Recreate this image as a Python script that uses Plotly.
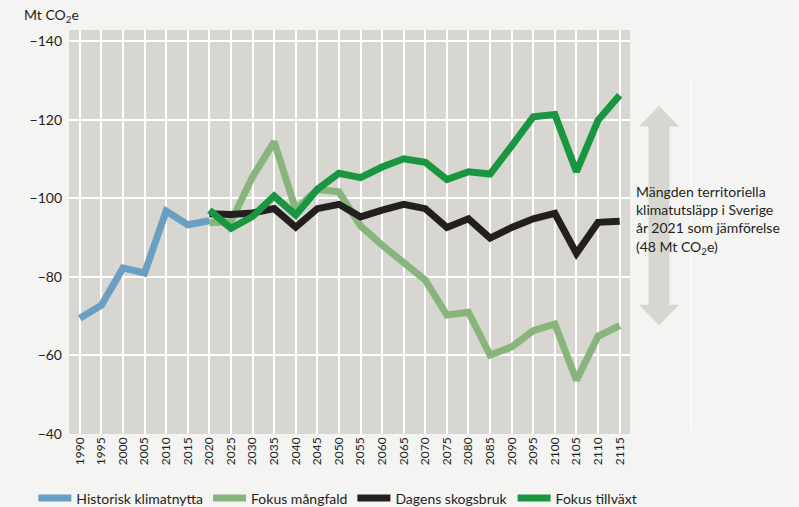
import plotly.graph_objects as go

years_hist = [1990, 1995, 2000, 2005, 2010, 2015, 2020]
hist = [-69.5, -72.8, -82.3, -81.0, -96.8, -93.3, -94.3]

years_scen = [2020, 2025, 2030, 2035, 2040, 2045, 2050, 2055, 2060, 2065, 2070,
              2075, 2080, 2085, 2090, 2095, 2100, 2105, 2110, 2115]
mangfald = [-93.8, -94.1, -105.5, -114.4, -97.2, -102.3, -101.7, -93.0, -88.1, -83.4,
            -79.2, -70.3, -71.0, -60.1, -62.2, -66.3, -68.0, -53.7, -64.9, -67.6]
dagens = [-96.1, -95.9, -96.3, -97.4, -92.7, -97.4, -98.5, -95.3, -97.0, -98.5,
          -97.4, -92.6, -94.8, -89.9, -92.6, -94.8, -96.2, -86.0, -93.9, -94.2]
tillvaxt = [-97.0, -92.4, -95.4, -100.6, -95.8, -102.3, -106.4, -105.3, -108.0, -110.1,
            -109.2, -104.8, -106.8, -106.2, -113.4, -120.8, -121.4, -106.8, -119.9, -126.3]

tick_years = list(range(1990, 2116, 5))
y_ticks = [-140, -120, -100, -80, -60, -40]

names = ["Historisk klimatnytta", "Fokus mångfald", "Dagens skogsbruk", "Fokus tillväxt"]
colors = ["#6a9fc2", "#88b57c", "#231f20", "#1b9640"]

FONT = "Lato"
TXT = "#231f20"
LW = 7

fig = go.Figure()
fig.add_trace(go.Scatter(x=years_hist, y=hist, mode="lines", name=names[0],
                         line=dict(color=colors[0], width=LW)))
fig.add_trace(go.Scatter(x=years_scen, y=mangfald, mode="lines", name=names[1],
                         line=dict(color=colors[1], width=LW)))
fig.add_trace(go.Scatter(x=years_scen, y=dagens, mode="lines", name=names[2],
                         line=dict(color=colors[2], width=LW)))
fig.add_trace(go.Scatter(x=years_scen, y=tillvaxt, mode="lines", name=names[3],
                         line=dict(color=colors[3], width=LW)))

# double arrow on the right (comparison span)
fig.add_shape(type="path", xref="paper", yref="y", layer="below",
              path=("M 1.0517 -123.6 L 1.0874 -118.3 L 1.0704 -118.3 L 1.0704 -72.9 "
                    "L 1.0874 -72.9 L 1.0517 -67.7 L 1.0160 -72.9 L 1.0330 -72.9 "
                    "L 1.0330 -118.3 L 1.0160 -118.3 Z"),
              fillcolor="#d7d6d1", line=dict(width=0))

# faint white divider line
fig.add_shape(type="line", xref="paper", yref="paper", layer="below",
              x0=1.1087, x1=1.1087, y0=0.01, y1=0.88,
              line=dict(color="#ffffff", width=1))

fig.add_annotation(xref="paper", yref="y", x=1.008, y=-94.4, xanchor="left", yanchor="middle",
                   align="left", showarrow=False,
                   text="Mängden territoriella<br>klimatutsläpp i Sverige<br>år 2021 som jämförelse<br>(48 Mt CO<sub>2</sub>e)",
                   font=dict(family=FONT, size=14, color=TXT))

fig.add_annotation(xref="paper", yref="paper", x=-0.083, y=1.037, xanchor="left", yanchor="middle",
                   showarrow=False, text="Mt CO<sub>2</sub>e",
                   font=dict(family=FONT, size=14, color=TXT))

fig.update_layout(
    width=799, height=507,
    margin=dict(l=69, r=169, t=30, b=73, autoexpand=False),
    paper_bgcolor="#f4f4f2",
    plot_bgcolor="#d7d6d1",
    font=dict(family=FONT, size=14, color=TXT),
    showlegend=True,
    legend=dict(orientation="h", x=-0.0636, y=-0.12, xanchor="left", yanchor="top",
                font=dict(family=FONT, size=14, color=TXT), bgcolor="rgba(0,0,0,0)",
                itemwidth=33, tracegroupgap=0),
    xaxis=dict(range=[1987.5, 2117.4], tickmode="array", tickvals=tick_years,
               ticktext=[str(t) for t in tick_years], tickangle=-90,
               tickfont=dict(family=FONT, size=12, color=TXT),
               showgrid=True, gridcolor="#ffffff", gridwidth=1.5, zeroline=False,
               showline=False, ticks=""),
    yaxis=dict(range=[-40, -142.9], tickmode="array", tickvals=y_ticks,
               tickfont=dict(family=FONT, size=14, color=TXT),
               showgrid=True, gridcolor="#ffffff", gridwidth=1.5, zeroline=False,
               showline=False, ticks="", ticklabelstandoff=6),
)

fig.write_html("out.html", config={"displayModeBar": False},
               post_script="document.body.style.margin='0';document.body.style.padding='0';")
